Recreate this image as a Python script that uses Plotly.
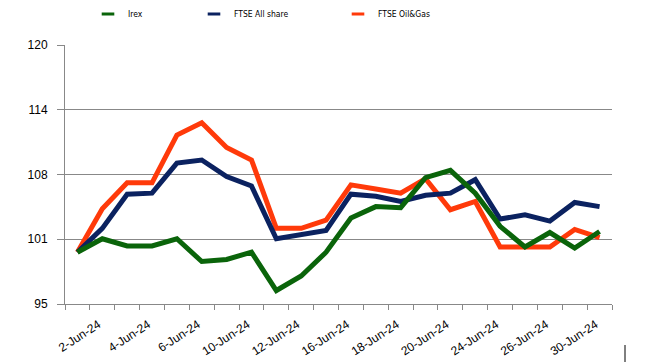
import plotly.graph_objects as go

dates = ["2-Jun-24", "3-Jun-24", "4-Jun-24", "5-Jun-24", "6-Jun-24", "7-Jun-24",
         "10-Jun-24", "11-Jun-24", "12-Jun-24", "14-Jun-24", "16-Jun-24", "17-Jun-24",
         "18-Jun-24", "19-Jun-24", "20-Jun-24", "21-Jun-24", "24-Jun-24", "25-Jun-24",
         "26-Jun-24", "27-Jun-24", "30-Jun-24", "1-Jul-24"]
labelled = ["2-Jun-24", "4-Jun-24", "6-Jun-24", "10-Jun-24", "12-Jun-24", "16-Jun-24",
            "18-Jun-24", "20-Jun-24", "24-Jun-24", "26-Jun-24", "30-Jun-24"]

irex = [100.0, 101.3, 100.6, 100.6, 101.3, 99.1, 99.3, 100.0, 96.3, 97.7, 100.0,
        103.3, 104.4, 104.3, 107.2, 107.9, 105.7, 102.5, 100.5, 101.9, 100.4, 102.0]
ftse_all = [100.0, 102.3, 105.6, 105.7, 108.6, 108.9, 107.3, 106.4, 101.3, 101.7, 102.1,
            105.6, 105.4, 104.9, 105.5, 105.7, 107.0, 103.2, 103.6, 103.0, 104.8, 104.4]
ftse_oil = [100.0, 104.2, 106.7, 106.7, 111.3, 112.5, 110.1, 108.9, 102.3, 102.3, 103.1,
            106.5, 106.1, 105.7, 107.1, 104.1, 104.9, 100.5, 100.5, 100.5, 102.2, 101.4]

y_tickvals = [95, 101.25, 107.5, 113.75, 120]
y_ticktext = ["95", "101", "108", "114", "120"]

series = [("Irex", irex, "#0A640A", "legend"),
          ("FTSE All share", ftse_all, "#0B2260", "legend2"),
          ("FTSE Oil&Gas", ftse_oil, "#FF3A0A", "legend3")]

fig = go.Figure()
# draw order: oil, all share, irex on top
for name, vals, col, lg in [series[2], series[1], series[0]]:
    fig.add_trace(go.Scatter(x=dates, y=vals, mode="lines", name=name,
                             line=dict(color=col, width=5), showlegend=False))
for name, vals, col, lg in series:
    fig.add_trace(go.Scatter(x=[None], y=[None], mode="markers", name=name, legend=lg,
                             marker=dict(symbol="line-ew", size=9,
                                         line=dict(color=col, width=3))))

legfont = dict(family="Liberation Sans Narrow, DejaVu Sans Condensed, Liberation Sans, sans-serif",
               size=8.5, color="#000000")
leg_common = dict(orientation="h", yref="container", yanchor="middle", y=1 - 14 / 362,
                  xanchor="left", font=legfont, bgcolor="rgba(0,0,0,0)", itemwidth=30,
                  tracegroupgap=0)

tick_text_x = [d if d in labelled else "" for d in dates]

fig.update_layout(
    width=645, height=362,
    margin=dict(l=65, r=33, t=45, b=58),
    paper_bgcolor="white", plot_bgcolor="white",
    font=dict(family="Liberation Sans, Arial, sans-serif", size=12, color="#000000"),
    legend=dict(x=(88 - 65) / 547, **leg_common),
    legend2=dict(x=(194 - 65) / 547, **leg_common),
    legend3=dict(x=(338 - 65) / 547, **leg_common),
    xaxis=dict(type="category", categoryorder="array", categoryarray=dates,
               range=[-0.5, len(dates) - 0.5], automargin=False,
               tickmode="array", tickvals=dates, ticktext=tick_text_x,
               tickson="boundaries", ticks="outside", ticklen=5, tickcolor="#888888",
               tickangle=-33, tickfont=dict(size=12), ticklabelshift=21,
               ticklabelstandoff=8,
               showline=True, linecolor="#888888", linewidth=1,
               showgrid=False, zeroline=False),
    yaxis=dict(range=[95, 120], tickmode="array", tickvals=y_tickvals, ticktext=y_ticktext,
               automargin=False,
               ticks="outside", ticklen=7, tickcolor="#888888",
               showline=True, linecolor="#888888", linewidth=1,
               showgrid=True, gridcolor="#888888", gridwidth=1,
               zeroline=False, tickfont=dict(size=12), ticklabelstandoff=7),
    shapes=[dict(type="line", xref="paper", yref="paper",
                 x0=(625 - 65) / 547, x1=(625 - 65) / 547,
                 y0=(304 - 345) / 259, y1=(304 - 362) / 259,
                 line=dict(color="black", width=1))],
)

fig.write_html("out.html", config={"displayModeBar": False},
               post_script="document.body.style.margin='0';document.body.style.overflow='hidden';")
